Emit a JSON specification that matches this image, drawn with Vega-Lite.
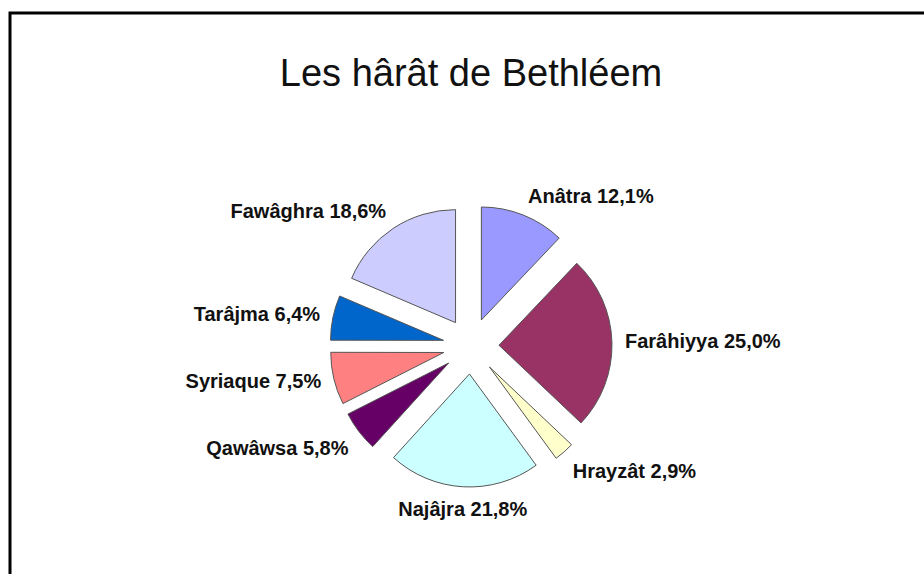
{
  "$schema": "https://vega.github.io/schema/vega-lite/v6.json",
  "width": 914,
  "height": 561,
  "autosize": {"type": "none"},
  "padding": {"left": 10, "top": 13, "right": 0, "bottom": 0},
  "background": "white",
  "config": {
    "view": {"stroke": "#000000", "strokeWidth": 3, "strokeDash": [914, 1475, 600, 1]}
  },
  "title": {
    "text": "Les hârât de Bethléem",
    "font": "Liberation Sans, Arial",
    "fontSize": 38,
    "fontWeight": "normal",
    "color": "#111111",
    "anchor": "middle",
    "frame": "group",
    "baseline": "alphabetic",
    "dx": 4,
    "offset": -111
  },
  "data": {
    "values": [
      {"harat": "Anâtra", "pct": 12.1},
      {"harat": "Farâhiyya", "pct": 25.0},
      {"harat": "Hrayzât", "pct": 2.9},
      {"harat": "Najâjra", "pct": 21.8},
      {"harat": "Qawâwsa", "pct": 5.8},
      {"harat": "Syriaque", "pct": 7.5},
      {"harat": "Tarâjma", "pct": 6.4},
      {"harat": "Fawâghra", "pct": 18.6}
    ]
  },
  "transform": [
    {"window": [{"op": "row_number", "as": "idx"}]},
    {"window": [{"op": "sum", "field": "pct", "as": "cum"}], "sort": [{"field": "idx"}], "frame": [null, 0]},
    {"joinaggregate": [{"op": "sum", "field": "pct", "as": "total"}]},
    {"calculate": "2 * PI * (datum.cum - datum.pct / 2) / datum.total", "as": "mid"},
    {"calculate": "sin(datum.mid)", "as": "ex"},
    {"calculate": "cos(datum.mid)", "as": "ey"},
    {"calculate": "datum.harat + ' ' + replace(format(datum.pct, '.1f'), '.', ',') + '%'", "as": "label"}
  ],
  "encoding": {
    "theta": {"field": "pct", "type": "quantitative", "stack": true},
    "order": {"field": "idx", "type": "quantitative"},
    "x": {"field": "ex", "type": "quantitative", "axis": null, "scale": {"domain": [-16.464, 16.179], "nice": false, "zero": false}},
    "y": {"field": "ey", "type": "quantitative", "axis": null, "scale": {"domain": [-8.143, 11.893], "nice": false, "zero": false}}
  },
  "layer": [
    {
      "mark": {"type": "arc", "radius": 113, "stroke": "#555555", "strokeWidth": 1},
      "encoding": {
        "color": {
          "field": "harat",
          "type": "nominal",
          "legend": null,
          "scale": {
            "domain": ["Anâtra", "Farâhiyya", "Hrayzât", "Najâjra", "Qawâwsa", "Syriaque", "Tarâjma", "Fawâghra"],
            "range": ["#9999FF", "#993366", "#FFFFCC", "#CCFFFF", "#660066", "#FF8080", "#0066CC", "#CCCCFF"]
          }
        }
      }
    },
    {
      "mark": {
        "type": "text",
        "radius": 126,
        "font": "Liberation Sans, Arial",
        "fontSize": 20,
        "fontWeight": "bold",
        "color": "#111111",
        "align": {"expr": "datum.ex > 0.3 ? 'left' : (datum.ex < -0.3 ? 'right' : 'center')"},
        "baseline": {"expr": "datum.ey > 0.5 ? 'alphabetic' : (datum.ey < -0.5 ? 'top' : 'middle')"}
      },
      "encoding": {
        "text": {"field": "label", "type": "nominal"}
      }
    }
  ]
}
